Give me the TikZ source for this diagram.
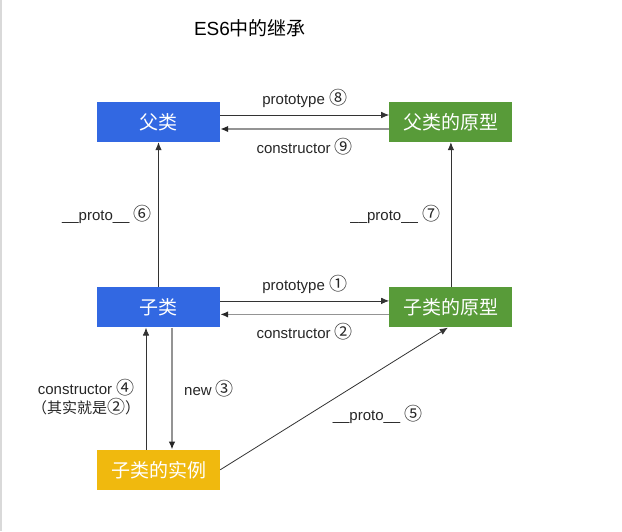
\documentclass[tikz,border=0pt]{standalone}
\usepackage{fontspec}
\setmainfont{Liberation Sans}
\newfontfamily\cjk{Noto Sans CJK SC}
\usepackage{xcolor}
\usetikzlibrary{positioning,arrows.meta}

\definecolor{clsblue}{RGB}{50,104,226}
\definecolor{protogreen}{RGB}{88,155,57}
\definecolor{instyellow}{RGB}{240,185,14}
\newcommand{\circnum}[1]{{\cjk\fontsize{18}{19}\selectfont #1}}

\begin{document}
\begin{tikzpicture}[
    x=1pt, y=-1pt,
    box/.style={rectangle, minimum width=123pt, minimum height=40pt, inner sep=0pt, text=white, font=\fontsize{19}{22}\selectfont\cjk},
    lbl/.style={font=\fontsize{15}{19}\selectfont, text=black!85},
    arr/.style={-{Latex[length=8pt,width=6.5pt]}, line width=0.8pt, draw=black!80},
    garr/.style={-{Latex[length=8pt,width=6.5pt,color=black!85]}, line width=1.8pt, draw=black!42}
]
    \useasboundingbox (0,0) rectangle (622,531);
    \draw[black!15, line width=2pt] (1,0) -- (1,531);

    \node[font=\fontsize{19}{22}\selectfont] (title) at (250,28) {ES6{\cjk 中的继承}};

    % classes and prototypes
    \node[box, fill=clsblue] (fu) at (158.5,122) {父类};
    \node[box, fill=protogreen, right=169pt of fu] (fuproto) {父类的原型};
    \node[box, fill=clsblue, below=145pt of fu] (zi) {子类};
    \node[box, fill=protogreen, right=169pt of zi] (ziproto) {子类的原型};
    \node[box, fill=instyellow, below=122pt of zi] (inst) {子类的实例};

    % top row
    \draw[arr] ([yshift=7pt]fu.east) -- node[lbl, above=4pt] (p8) {prototype \circnum{⑧}} ([yshift=7pt]fuproto.west);
    \draw[garr] ([yshift=-7pt]fuproto.west) -- node[lbl, below=5pt] (c9) {constructor \circnum{⑨}} ([yshift=-7pt]fu.east);

    % __proto__ links
    \draw[arr] (zi) -- node[lbl, left=3pt] (p6) {\_\_proto\_\_ \circnum{⑥}} (fu);
    \draw[arr] (ziproto) -- node[lbl, left=7pt] (p7) {\_\_proto\_\_ \circnum{⑦}} (fuproto);

    % middle row
    \draw[arr] ([yshift=6.5pt]zi.east) -- node[lbl, above=4pt] (p1) {prototype \circnum{①}} ([yshift=6.5pt]ziproto.west);
    \draw[garr] ([yshift=-7pt]ziproto.west) -- node[lbl, below=5pt] (c2) {constructor \circnum{②}} ([yshift=-7pt]zi.east);

    % instance
    \draw[arr] ([xshift=-12.5pt]inst.north) -- node[lbl, left=8pt, yshift=-9pt, align=center] (c4) {constructor \circnum{④}\\{\cjk\addfontfeatures{RawFeature=+halt}（其实就是\circnum{②}）}} ([xshift=-12.5pt]zi.south);
    \draw[garr] ([xshift=13.5pt]zi.south) -- node[lbl, right=8pt] (n3) {new \circnum{③}} ([xshift=13.5pt]inst.north);
    \draw[arr] (inst.east) -- node[lbl, anchor=north west, xshift=-5pt, yshift=-3pt] (p5) {\_\_proto\_\_ \circnum{⑤}} ([xshift=-3pt]ziproto.south);
\end{tikzpicture}
\end{document}
